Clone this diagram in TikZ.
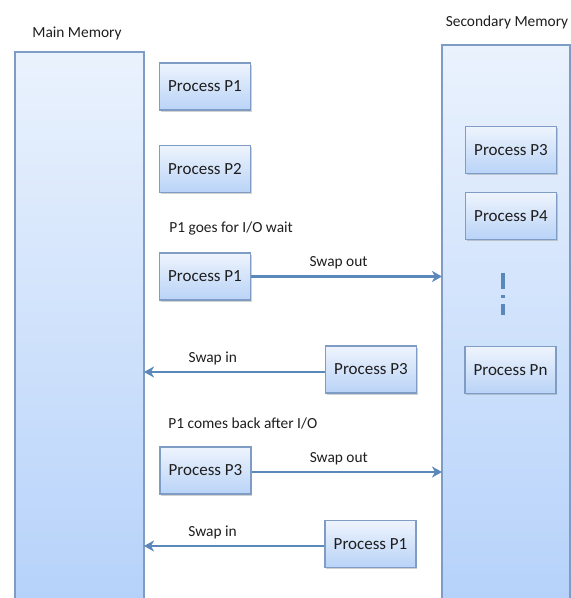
\documentclass[tikz,border=0pt]{standalone}
\usepackage{fontspec}
\setmainfont{Carlito}
\usepackage{tikz}
\usetikzlibrary{calc,shadows,arrows.meta}

\definecolor{boxline}{HTML}{7F9CC4}
\definecolor{boxtop}{HTML}{EEF4FD}
\definecolor{boxbot}{HTML}{B9D3F7}
\definecolor{memtop}{HTML}{EAF2FD}
\definecolor{membot}{HTML}{B6D2FA}
\definecolor{arrowblue}{HTML}{5B88BA}
\definecolor{textgray}{HTML}{1E1E1E}

\tikzset{
    procbox/.style={draw=boxline,line width=0.6pt,top color=boxtop,bottom color=boxbot,
        minimum width=45.5pt,minimum height=23.5pt,inner sep=0pt,text=textgray,
        drop shadow={shadow xshift=0.6pt,shadow yshift=-0.8pt,opacity=0.35},
        font=\fontsize{8.5}{10}\selectfont},
    membox/.style={draw=boxline,top color=memtop,bottom color=membot,line width=0.8pt},
    swaparrow/.style={draw=arrowblue,line width=1.3pt,-{Stealth[length=5pt,width=5.5pt,inset=1.5pt]}},
    note/.style={font=\fontsize{7.7}{9}\selectfont,inner sep=1pt,text=textgray}
}

\begin{document}
\begin{tikzpicture}[x=0.5pt,y=-0.5pt]
            \useasboundingbox[fill=white] (0,0) rectangle (571,598);
            % memories
            \draw[membox] (15,52) rectangle (144,600);
            \draw[membox] (442,45) rectangle (570,600);
            \coordinate (mainedge) at (144,300);
            \coordinate (secedge) at (442,300);
            \node[note] (mainlbl) at (77,33) {Main Memory};
            \node[note] (seclbl) at (507,22) {Secondary Memory};
            % processes in main memory
            \node[procbox] (p1) at (205,86.5) {Process P1};
            \node[procbox] (p2) at (205,169) {Process P2};
            \node[note,anchor=west] (wait) at (167,228) {P1 goes for I/O wait};
            \node[procbox] (p1out) at (205,276.5) {Process P1};
            \node[procbox] (p3in) at (371,369.5) {Process P3};
            \node[note,anchor=west] (back) at (166,423) {P1 comes back after I/O};
            \node[procbox] (p3out) at (205.5,470.5) {Process P3};
            \node[procbox] (p1in) at (370.5,544) {Process P1};
            % processes in secondary memory
            \node[procbox] (s3) at (511,150) {Process P3};
            \node[procbox] (s4) at (511,216) {Process P4};
            \node[procbox] (sn) at (510.5,370) {Process Pn};
            \draw[arrowblue,line width=1.6pt,dash pattern=on 8pt off 3pt on 1.5pt off 3pt] (s4.south) ++(-8,33) coordinate (dtop) -- ++(0,42) coordinate (dbot);
            % swaps
            \draw[swaparrow] (p1out.east) -- (secedge |- p1out.east) node[note,midway,above=2pt,xshift=-4pt] {Swap out};
            \draw[swaparrow] ($(p3in.west)+(0,2.5)$) -- (mainedge |- {$(p3in.west)+(0,2.5)$}) node[note,pos=0.62,above=2pt] {Swap in};
            \draw[swaparrow] ($(p3out.east)+(0,1.5)$) -- (secedge |- {$(p3out.east)+(0,1.5)$}) node[note,midway,above=2pt,xshift=-4pt] {Swap out};
            \draw[swaparrow] ($(p1in.west)+(0,2)$) -- (mainedge |- {$(p1in.west)+(0,2)$}) node[note,pos=0.62,above=2pt] {Swap in};
\end{tikzpicture}
\end{document}
